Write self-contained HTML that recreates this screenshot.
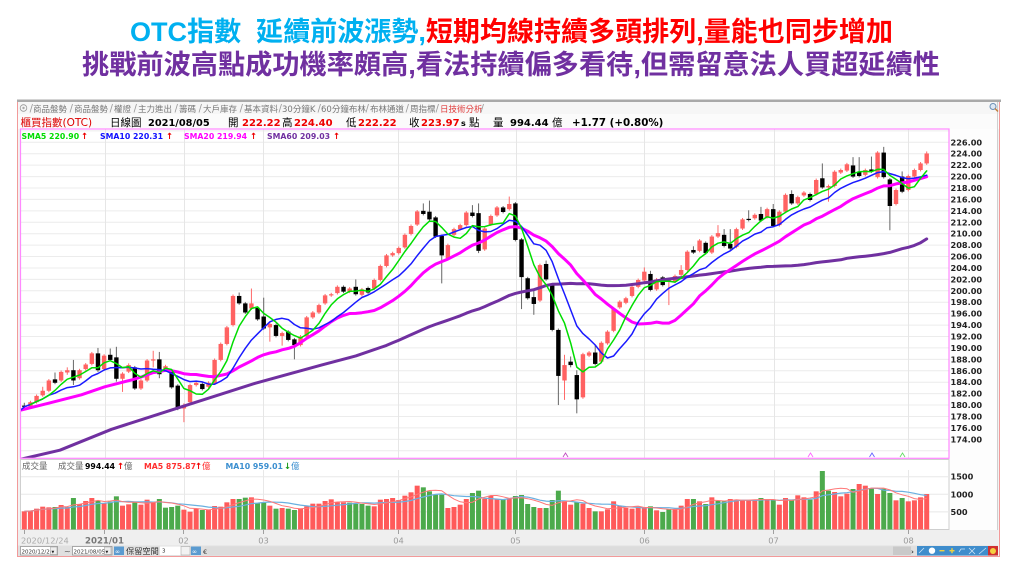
<!DOCTYPE html>
<html><head><meta charset="utf-8">
<style>
html,body{margin:0;padding:0;background:#fff;width:1023px;height:575px;overflow:hidden;}
svg{display:block;}
</style></head>
<body>
<svg id="s" width="1023" height="575" viewBox="0 0 1023 575" xmlns="http://www.w3.org/2000/svg">
<defs>
<clipPath id="cpMain"><rect x="21" y="129.5" width="927.5" height="328.5"/></clipPath>
<clipPath id="cpVol"><rect x="21" y="460" width="927.5" height="69.5"/></clipPath>
</defs>
<rect width="1023" height="575" fill="#fff"/>
<!-- Titles -->
<text x="130" y="41" font-size="27" font-weight="bold" textLength="763" lengthAdjust="spacingAndGlyphs" font-family="'Liberation Sans','Noto Sans CJK TC',sans-serif"><tspan fill="#00b0f0">OTC指數&#160;&#160;延續前波漲勢,</tspan><tspan fill="#ff0000">短期均線持續多頭排列,量能也同步增加</tspan></text>
<text x="82" y="74" font-size="27" font-weight="bold" textLength="858" lengthAdjust="spacingAndGlyphs" fill="#7030a0" font-family="'Liberation Sans','Noto Sans CJK TC',sans-serif">挑戰前波高點成功機率頗高,看法持續偏多看待,但需留意法人買超延續性</text>

<!-- Frame -->
<rect x="17.5" y="100.5" width="982" height="456" fill="#f3f3f3" stroke="#f29a9a" stroke-width="1"/>
<rect x="17" y="99.5" width="984" height="2.5" fill="#a9a9a9"/>
<rect x="18" y="102" width="981" height="12" fill="#f6f6f6"/>
<rect x="18" y="114" width="981" height="15" fill="#fbfbfb"/>
<rect x="949" y="129" width="48" height="401" fill="#fdfdfd"/>
<line x1="997.5" y1="102" x2="997.5" y2="545" stroke="#cfcfcf"/>

<!-- Tabs -->
<g font-family="'DejaVu Sans','Noto Sans CJK TC',sans-serif" font-size="8.5" fill="#777">
<circle cx="23.5" cy="108" r="3.3" fill="none" stroke="#999" stroke-width="0.8"/>
<circle cx="23.5" cy="108" r="1.2" fill="#aaa"/>
<text x="33" y="112">商品盤勢</text>
<text x="74" y="112">商品盤勢</text>
<text x="114" y="112">權證</text>
<text x="138" y="112">主力進出</text>
<text x="179" y="112">籌碼</text>
<text x="203" y="112">大戶庫存</text>
<text x="244" y="112">基本資料</text>
<text x="282" y="112">30分鐘K</text>
<text x="321" y="112">60分鐘布林</text>
<text x="370" y="112">布林通道</text>
<text x="410" y="112">周指標</text>
<text x="440" y="112" fill="#e03c3c">日技術分析</text>
</g>
<g stroke="#999" stroke-width="0.8">
<line x1="30" y1="112.5" x2="32.5" y2="104"/><line x1="70" y1="112.5" x2="72.5" y2="104"/>
<line x1="110" y1="112.5" x2="112.5" y2="104"/><line x1="134" y1="112.5" x2="136.5" y2="104"/>
<line x1="175" y1="112.5" x2="177.5" y2="104"/><line x1="199" y1="112.5" x2="201.5" y2="104"/>
<line x1="240" y1="112.5" x2="242.5" y2="104"/><line x1="279" y1="112.5" x2="281.5" y2="104"/>
<line x1="318" y1="112.5" x2="320.5" y2="104"/><line x1="366" y1="112.5" x2="368.5" y2="104"/>
<line x1="406" y1="112.5" x2="408.5" y2="104"/><line x1="436" y1="112.5" x2="438.5" y2="104"/>
<line x1="481" y1="112.5" x2="483.5" y2="104"/>
</g>
<!-- magnifier icon -->
<circle cx="993" cy="106.5" r="3" fill="#dde8f4" stroke="#6b8fb5" stroke-width="1"/>
<line x1="995" y1="108.5" x2="998" y2="111.5" stroke="#c08040" stroke-width="1.5"/>

<!-- Header row -->
<g font-family="'DejaVu Sans','Noto Sans CJK TC',sans-serif">
<text x="20.5" y="126" font-size="10.5" fill="#dd0000">櫃買指數(OTC)</text>
<text x="110" y="126" font-size="10.5" fill="#000">日線圖</text>
<text x="148" y="126" font-size="9.8" font-weight="bold" fill="#000">2021/08/05</text>
<text x="228" y="126" font-size="10.5" fill="#000">開</text>
<text x="242" y="126" font-size="10" font-weight="bold" fill="#ee0000">222.22</text>
<text x="282" y="126" font-size="10.5" fill="#000">高</text>
<text x="294" y="126" font-size="10" font-weight="bold" fill="#ee0000">224.40</text>
<text x="346" y="126" font-size="10.5" fill="#000">低</text>
<text x="358" y="126" font-size="10" font-weight="bold" fill="#ee0000">222.22</text>
<text x="409" y="126" font-size="10.5" fill="#000">收</text>
<text x="421" y="126" font-size="10" font-weight="bold" fill="#ee0000">223.97</text>
<text x="461" y="126" font-size="8" font-weight="bold" fill="#000">s</text>
<text x="469" y="126" font-size="10.5" fill="#000">點</text>
<text x="493" y="126" font-size="10.5" fill="#000">量</text>
<text x="510" y="126" font-size="10" font-weight="bold" fill="#000">994.44</text>
<text x="552" y="126" font-size="10.5" fill="#000">億</text>
<text x="572" y="126" font-size="10.3" font-weight="bold" fill="#000">+1.77 (+0.80%)</text>
</g>

<!-- Main plot -->
<rect x="20.5" y="129" width="928.5" height="329.3" fill="#fff"/>
<g id="grid" clip-path="url(#cpMain)"></g>
<g id="candles" clip-path="url(#cpMain)"></g>
<g id="mas" clip-path="url(#cpMain)" fill="none" stroke-linejoin="round" stroke-linecap="round"></g>
<rect x="20.5" y="129" width="928.5" height="329.3" fill="none" stroke="#ff88ff" stroke-width="1.2"/>
<!-- cross markers -->
<g fill="none" stroke-width="0.9">
<polyline points="563,457 565.5,453 568,457" stroke="#c050c0"/>
<polyline points="808,457 810.5,453 813,457" stroke="#ff66ff"/>
<polyline points="869.5,457 872,453 874.5,457" stroke="#6666ff"/>
<polyline points="900,457 902.5,453 905,457" stroke="#66dd66"/>
</g>
<!-- SMA legend -->
<g font-family="'DejaVu Sans',sans-serif" font-size="7.8" font-weight="bold">
<text x="21.5" y="139" fill="#00dd00">SMA5 220.90</text><text x="81" y="139" fill="#ee0000" font-size="8.5">↑</text>
<text x="100" y="139" fill="#1010ff">SMA10 220.31</text><text x="166" y="139" fill="#ee0000" font-size="8.5">↑</text>
<text x="184" y="139" fill="#ff00ff">SMA20 219.94</text><text x="250" y="139" fill="#ee0000" font-size="8.5">↑</text>
<text x="267" y="139" fill="#7030a0">SMA60 209.03</text><text x="333" y="139" fill="#ee0000" font-size="8.5">↑</text>
</g>
<!-- Price axis labels -->
<g id="yax" font-family="'DejaVu Sans',sans-serif" font-size="8.2" font-weight="bold" fill="#222"></g>

<!-- Volume panel -->
<rect x="20.5" y="459.5" width="928.5" height="70" fill="#fff" stroke="#cfcfcf" stroke-width="1"/>
<g id="vgrid"></g>
<g id="vols" clip-path="url(#cpVol)"></g>
<g id="vmas" clip-path="url(#cpVol)" fill="none"></g>
<g font-family="'DejaVu Sans','Noto Sans CJK TC',sans-serif" font-size="8.5">
<text x="22" y="469" fill="#666">成交量</text>
<text x="58" y="469" fill="#666">成交量</text>
<text x="85" y="469" font-weight="bold" font-size="7.8" fill="#000">994.44</text>
<text x="117" y="469" fill="#ee0000" font-weight="bold">↑</text>
<text x="124" y="469" fill="#666">億</text>
<text x="144" y="469" font-weight="bold" font-size="7.8" fill="#ff3030">MA5 875.87</text>
<text x="195" y="469" fill="#ee0000" font-weight="bold">↑</text>
<text x="202" y="469" fill="#ff3030">億</text>
<text x="225.5" y="469" font-weight="bold" font-size="7.8" fill="#3b8fd0">MA10 959.01</text>
<text x="284" y="469" fill="#1a9a1a" font-weight="bold">↓</text>
<text x="291" y="469" fill="#3b8fd0">億</text>
</g>
<g font-family="'DejaVu Sans',sans-serif" font-size="8.2" font-weight="bold" fill="#222">
<text x="950.5" y="479.7">1500</text>
<text x="950.5" y="497.3">1000</text>
<text x="950.5" y="514.9">500</text>
</g>

<!-- X axis -->
<rect x="18" y="530" width="980" height="15.5" fill="#efefef"/>
<g stroke="#a0a0a0" stroke-width="1">
<line x1="24.5" y1="530" x2="24.5" y2="534"/><line x1="104.5" y1="530" x2="104.5" y2="534"/>
<line x1="183.5" y1="530" x2="183.5" y2="534"/><line x1="263.5" y1="530" x2="263.5" y2="534"/>
<line x1="398.5" y1="530" x2="398.5" y2="534"/><line x1="515.5" y1="530" x2="515.5" y2="534"/>
<line x1="644.5" y1="530" x2="644.5" y2="534"/><line x1="773.5" y1="530" x2="773.5" y2="534"/>
<line x1="908.5" y1="530" x2="908.5" y2="534"/>
</g>
<g font-family="'DejaVu Sans',sans-serif" font-size="8.3" fill="#9a9a9a">
<text x="21" y="543.5" fill="#aaaaaa">2020/12/24</text>
<text x="104.5" y="543.5" text-anchor="middle" font-weight="bold" font-size="8.6" fill="#777">2021/01</text>
<text x="183.5" y="543.5" text-anchor="middle">02</text>
<text x="263.5" y="543.5" text-anchor="middle">03</text>
<text x="398.5" y="543.5" text-anchor="middle">04</text>
<text x="515.5" y="543.5" text-anchor="middle">05</text>
<text x="644.5" y="543.5" text-anchor="middle">06</text>
<text x="773.5" y="543.5" text-anchor="middle">07</text>
<text x="908.5" y="543.5" text-anchor="middle">08</text>
</g>

<!-- Bottom toolbar -->
<rect x="18" y="545.5" width="980" height="10.5" fill="#e0e0e0"/>
<rect x="205" y="546.5" width="688" height="8.5" fill="#dcdcdc"/>
<rect x="893" y="546.5" width="18" height="8.5" fill="#c9c9c9"/>
<g font-family="'DejaVu Sans','Noto Sans CJK TC',sans-serif">
<rect x="20.5" y="546.5" width="37" height="8.5" fill="#fff" stroke="#8a8a8a" stroke-width="0.7"/>
<text x="21.5" y="553.5" font-size="5.5" fill="#333">2020/12/24</text>
<rect x="50.5" y="547" width="6.5" height="7.5" fill="#eee" stroke="#999" stroke-width="0.5"/>
<text x="51.5" y="553.3" font-size="5.5" fill="#222">▾</text>
<text x="64" y="553.8" font-size="8" fill="#555">~</text>
<rect x="72.5" y="546.5" width="39.5" height="8.5" fill="#fff" stroke="#8a8a8a" stroke-width="0.7"/>
<text x="73.5" y="553.5" font-size="5.5" fill="#333">2021/08/05</text>
<rect x="104.5" y="547" width="6.5" height="7.5" fill="#eee" stroke="#999" stroke-width="0.5"/>
<text x="105.5" y="553.3" font-size="5.5" fill="#222">▾</text>
<rect x="114" y="546.5" width="10" height="8.5" fill="#5b9bd0"/>
<text x="115" y="553.3" font-size="6" fill="#fff">∞</text>
<text x="126" y="554" font-size="8.2" fill="#333">保留空間</text>
<rect x="160" y="546.5" width="21" height="8.5" fill="#fff"/>
<text x="162" y="552.5" font-size="5.5" fill="#333">3</text>
<rect x="181" y="546.5" width="9" height="8.5" fill="#f2f2f2" stroke="#999" stroke-width="0.5"/>
<rect x="191" y="546.5" width="10" height="8.5" fill="#5b9bd0"/>
<text x="192" y="553.3" font-size="6" fill="#fff">∞</text>
<text x="203" y="553.8" font-size="6.5" fill="#333">€</text>
<text x="911" y="553.8" font-size="7" font-weight="bold" fill="#333">›</text>
</g>
<g>
<rect x="917" y="546" width="10" height="9.5" fill="#3f8dcc"/>
<rect x="927" y="546" width="10" height="9.5" fill="#3f8dcc"/>
<circle cx="932" cy="550.7" r="3.2" fill="#fff"/>
<rect x="937" y="546" width="10" height="9.5" fill="#3f8dcc"/>
<rect x="939.5" y="550" width="5" height="1.4" fill="#f0d040"/>
<rect x="947" y="546" width="10" height="9.5" fill="#3f8dcc"/>
<rect x="949.5" y="550" width="5" height="1.4" fill="#f0d040"/><rect x="951.3" y="548.2" width="1.4" height="5" fill="#f0d040"/>
<rect x="957" y="546" width="10" height="9.5" fill="#3f8dcc"/>
<rect x="967" y="546" width="10" height="9.5" fill="#3f8dcc"/>
<rect x="977" y="546" width="11" height="9.5" fill="#3f8dcc"/>
<rect x="988" y="546" width="10" height="9.5" fill="#d03030"/>
<circle cx="993" cy="551" r="3" fill="#f4d040"/>
<g stroke="#cfe3f5" stroke-width="0.8" fill="none">
<line x1="919" y1="553" x2="924" y2="548"/>
<polyline points="959,552 961,549 965,549"/>
<polyline points="969,548 975,554"/><polyline points="969,554 975,548"/>
<line x1="979" y1="554" x2="986" y2="548"/>
</g>
</g>
</svg>
<script>
(function(){
var NS='http://www.w3.org/2000/svg';
function el(t,a,p){var e=document.createElementNS(NS,t);for(var k in a)e.setAttribute(k,a[k]);p.appendChild(e);return e;}
var D=[
[0,179.9,179.7,180.4,179.3],[1,180.5,179.7],[1,181.6,180.5],[1,182.5,181.7,183.2],[1,184.3,182.5],
[0,184.5,183.9,185.7],[1,185.8,184.3],[1,186.1,185.7,186.6,185.3],[0,186.1,184.3,187.9,183.5],[1,186.1,184.7],
[1,187.1,186.3],[1,189.05,187.2],[0,189.05,186.1,190.0,185.8],[1,188.65,186.3],[0,188.8,187.9,189.9],
[0,188.35,184.6,190.2,184.1],[1,185.5,184.6,0,182.3],[1,187.0,185.85,187.3],[0,186.6,182.9],[1,184.3,182.9],
[1,187.8,184.3],[1,188.0,187.8,189.5,186.6],[0,188.0,185.4,189.3,184.7],[1,186.8,186.1],[0,185.85,183.1],
[0,183.4,179.4,0,179.1],[1,179.8,179.4,180.3,177.0],[1,183.5,180.5],[1,183.9,183.5],[0,183.7,182.8],
[1,183.9,183.2],[1,187.9,183.8],[1,190.7,187.9],[1,193.6,190.7],[1,199.1,194.0],
[0,199.1,197.8,199.7],[0,197.8,196.2],[1,197.8,196.9,200.4],[0,197.0,195.0],[0,195.5,193.4,198.8],
[1,194.2,193.6,0,191.1],[0,194.0,192.1],[1,192.6,192.1,0,190.4],[0,192.85,191.4],[0,191.5,190.5,0,188.0],
[1,192.0,190.5],[1,195.35,192.0],[1,196.2,195.35],[1,197.5,196.2],[1,199.2,197.8],
[1,199.4,199.2],[1,200.7,199.6],[0,200.7,199.85],[1,200.4,199.85],[0,200.7,199.4,202.0],
[1,200.25,199.3],[0,200.5,199.7],[1,201.9,200.4],[1,204.35,201.9],[1,206.2,204.35],
[1,206.6,206.2],[1,207.5,206.6],[1,209.8,207.6],[1,211.35,209.95],[1,213.9,211.6],
[0,214.0,213.45,215.3],[0,213.85,212.5,215.8],[0,212.85,209.5],[0,209.6,206.2,0,201.3],[1,208.0,205.7],
[1,210.8,209.8],[1,211.5,210.8],[1,213.7,211.5],[0,213.7,213.1,215.0],[0,213.6,207.0,215.3,206.6],
[1,210.9,207.25],[1,213.1,211.6],[1,214.6,213.2],[0,214.6,213.8],[1,215.2,214.3,216.5],
[0,215.3,208.9],[0,209.0,202.4,0,196.8],[0,202.2,198.7],[0,198.9,197.7,200.4,195.8],[1,204.5,198.3],
[0,204.7,202.0,205.3],[0,201.0,193.15],[0,193.15,185.1,0,180.0],[1,187.0,184.3,188.8,180.9],[0,187.6,187.0,188.5,186.6],
[0,185.25,181.0,186.1,178.55],[1,188.9,181.35],[1,189.2,188.65],[0,189.2,187.2,190.5],[1,190.9,187.6],
[1,192.85,190.8],[1,196.8,193.0],[1,198.1,197.1],[1,198.7,197.9],[1,200.7,199.1],
[1,201.9,200.7],[1,203.35,201.8,204.1],[0,202.95,200.15,203.5],[1,202.0,200.25],[0,202.35,201.0],
[1,201.9,201.6,202.2,197.5],[1,202.6,201.6],[1,203.65,202.8,204.5],[1,206.85,203.65],[0,207.15,206.7,207.8],
[1,208.8,207.0],[0,208.4,206.6],[1,209.5,206.7],[1,210.1,209.5,211.5],[0,209.8,207.85,210.8],
[0,208.2,207.4,210.8],[1,210.8,207.7],[1,212.5,210.9],[0,212.6,212.4,214.1],[1,213.3,212.7],
[0,213.45,212.3,214.7],[1,214.3,212.9],[0,214.3,211.35,215.2],[1,213.85,211.5],[1,216.8,213.85],
[0,216.95,215.3,217.6],[1,216.4,215.3],[1,217.2,216.7],[0,216.95,215.9],[1,219.4,216.95],
[0,219.7,218.1,222.3],[1,218.35,218.1,0,215.6],[1,220.85,218.35],[1,221.15,220.7],[1,222.15,221.05],
[0,221.95,220.0,223.4],[0,220.85,220.1,223.4],[1,221.15,220.3],[0,221.25,220.9,223.5],[1,224.2,219.9],
[0,224.2,219.9,225.2],[0,219.5,214.85,0,210.6],[1,217.65,215.2],[0,220.0,217.35,220.9],[1,220.1,217.65],
[1,221.15,220.0],[1,222.3,221.15],[1,224.05,222.3,224.4]
];
var V=[130,128,122,116,118,117,111,117,90,108,99,90,99,106,101,85,113,109,103,110,95,101,93,119,117,113,125,131,122,126,125,114,116,103,93,93,89,88,106,104,113,122,120,122,126,122,115,107,107,99,94,103,103,104,108,108,113,115,95,93,90,96,83,73,53,58,70,80,80,120,117,110,93,75,
68,92,84,93,95,92,84,81,108,117,120,120,96,68,99,110,103,107,120,130,130,124,100,114,120,122,116,120,115,127,132,124,123,113,93,93,100,108,88,99,100,93,96,96,96,96,90,95,96,110,90,95,82,88,95,70,9,68,72,85,77,63,48,53,60,78,62,75,97,90,100,97,88,78];
var VC="rrrrrgrrgrrrgrggrrgrrrggggrrrgrrrrrggrggrgrggrrrrrrrrggggrrrrrrrrggggrrrrg"+"grrrgrggggrgggrrgrrgrrrrrrrrgrggrrrgrgrggrrrrrgrgrrgrrgrggrrrgrrgrggrgrrrr";
var N=D.length, step=(926.7-24.3)/(N-1);
function X(i){return 24.3+step*i;}
function Y(p){return 142.3+(226-p)*5.712;}
var gG=document.getElementById('grid'),gC=document.getElementById('candles'),gM=document.getElementById('mas'),gY=document.getElementById('yax');
var months=[105,184,263,398,516,644,774,908];
var v,y,i;
for(v=172;v<=228;v+=2){y=Y(v);el('line',{x1:20,x2:950,y1:y,y2:y,stroke:'#ececec','stroke-width':1},gG);}
months.forEach(function(m){el('line',{x1:m+0.5,x2:m+0.5,y1:129,y2:459,stroke:'#e6e6e6','stroke-width':1},gG);});
for(v=174;v<=226;v+=2){var t=el('text',{x:950.5,y:(Y(v)+3).toFixed(1)},gY);t.textContent=v.toFixed(2);}
var closes=[];
for(i=0;i<N;i++){
 var d=D[i],u=d[0],tp=d[1],bt=d[2],wh=d[3]||tp+0.25,wl=d[4]||bt-0.25;
 closes.push(u?tp:bt);
 var x=X(i);
 el('line',{x1:x.toFixed(2),x2:x.toFixed(2),y1:Y(wh).toFixed(2),y2:Y(wl).toFixed(2),stroke:u?'#ff6a6a':'#666','stroke-width':1},gC);
 var h=Math.max(Y(bt)-Y(tp),1.2);
 el('rect',{x:(x-2.2).toFixed(2),y:Y(tp).toFixed(2),width:4.4,height:h.toFixed(2),fill:u?'#ff6262':'#000'},gC);
}
function ma(arr,n,i){var s=0,c=0;for(var j=Math.max(0,i-n+1);j<=i;j++){s+=arr[j];c++;}return s/c;}
function P(pts){return 'M'+pts.map(function(p){return p[0].toFixed(1)+','+p[1].toFixed(1);}).join('L');}
function series(n,start,manual){
 var pts=[];
 if(manual){manual.forEach(function(m){pts.push([X(m[0]),Y(m[1])]);});}
 for(var i=start;i<N;i++)pts.push([X(i),Y(ma(closes,n,i))]);
 return pts;
}
var m60=series(60,59,[[-0.6,170.5],[5.8,172.1],[14.2,175.75],[25.6,179.7],[37.6,183.8],[48.4,187.0],[54,188.6]]);
var m20=series(20,19,[[-0.6,179.1],[3.9,180.3],[9.3,181.8],[13.1,183.2],[17.5,184.4]]);
var m10=series(10,0,[[-0.6,179.1]]);
var m5=series(5,1,null);
el('path',{d:P(m60),stroke:'#7030a0','stroke-width':3},gM);
el('path',{d:P(m20),stroke:'#ff00ff','stroke-width':3},gM);
el('path',{d:P(m10),stroke:'#1a1aff','stroke-width':1.5},gM);
el('path',{d:P(m5),stroke:'#00dd00','stroke-width':1.5},gM);
var gVG=document.getElementById('vgrid'),gV=document.getElementById('vols'),gVM=document.getElementById('vmas');
[476.7,494.3,511.9].forEach(function(y){el('line',{x1:21,x2:949,y1:y,y2:y,stroke:'#e8e8e8','stroke-width':1},gVG);});
months.forEach(function(m){el('line',{x1:m+0.5,x2:m+0.5,y1:470,y2:529,stroke:'#e8e8e8','stroke-width':1},gVG);});
var vols=[];
for(i=0;i<V.length;i++){
 var top=468+V[i]/3, xx=24.3+step*i;
 vols.push(529.5-top);
 el('rect',{x:(xx-2.5).toFixed(2),y:top.toFixed(2),width:5,height:(529.5-top).toFixed(2),fill:VC.charAt(i)==='g'?'#4caa4c':'#ff5a5a'},gV);
}
function vser(n){var pts=[];for(var i=0;i<vols.length;i++)pts.push([24.3+step*i,529.5-ma(vols,n,i)]);return pts;}
el('path',{d:P(vser(10)),stroke:'#6ab0e0','stroke-width':1.2},gVM);
el('path',{d:P(vser(5)),stroke:'#ff7878','stroke-width':1},gVM);
})();
</script>
</body></html>
